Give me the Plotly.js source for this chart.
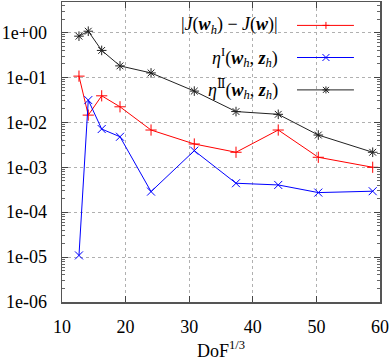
<!DOCTYPE html>
<html><head><meta charset="utf-8">
<script src="https://cdn.plot.ly/plotly-3.0.1.min.js"></script>
<style>html,body{margin:0;padding:0;background:#fff}#plot{width:390px;height:361px}</style>
</head><body><div id="plot"></div>
<script>
// DoF^{1/3}
const dof = [12.67, 14.13, 16.24, 19.12, 24.0, 30.8, 37.36, 44.0, 50.3, 58.85];
// |J(w_h) - J(w)|
const errJ = [0.107, 0.0145, 0.039, 0.0222, 0.00675, 0.0033, 0.00216, 0.00675, 0.00167, 0.001];
// eta^I(w_h, z_h)
const etaI = [1.09e-5, 0.0313, 0.0071, 0.00478, 2.87e-4, 0.00234, 4.41e-4, 4.04e-4, 2.73e-4, 2.93e-4];
// eta^II(w_h, z_h)
const etaII = [0.83, 1.07, 0.40, 0.181, 0.126, 0.0497, 0.0174, 0.0151, 0.00522, 0.00216];

const yTickVals = [1e-6, 1e-5, 1e-4, 1e-3, 1e-2, 1e-1, 1];
const yTickText = ['1e-06', '1e-05', '1e-04', '1e-03', '1e-02', '1e-01', '1e+00'];
const xTickVals = [10, 20, 30, 40, 50, 60];
const legendNames = [
  '|<i>J</i>(<b><i>w</i></b><sub><i>h</i></sub>) − <i>J</i>(<b><i>w</i></b>)|',
  '<i>η</i><sup>I</sup>(<b><i>w</i></b><sub><i>h</i></sub>, <b><i>z</i></b><sub><i>h</i></sub>)',
  '<i>η</i><sup>Ⅱ</sup>(<b><i>w</i></b><sub><i>h</i></sub>, <b><i>z</i></b><sub><i>h</i></sub>)'
];
const colors = ['#ff0000', '#0000ff', '#222222'];
const symbols = ['cross-thin-open', 'x-thin-open', 'asterisk-open'];
const series = [errJ, etaI, etaII];

// minor log ticks 2..9 within each decade
const minorVals = [];
for (let e = -6; e <= 0; e++) for (let m = 2; m <= 9; m++) {
  const v = m * Math.pow(10, e);
  if (Math.log10(v) <= 0.68) minorVals.push(v);
}

const traces = series.map((s, i) => ({
  x: dof, y: s, type: 'scatter', mode: 'lines+markers',
  line: {color: colors[i], width: 1},
  marker: {symbol: symbols[i], size: 8, color: colors[i], line: {color: colors[i], width: 1}},
  showlegend: false, hoverinfo: 'skip'
}));

const font = {family: 'Liberation Serif, DejaVu Serif, serif', size: 18, color: '#000'};

// manual key (text on the left, sample on the right, as in gnuplot)
const keyTextX = 0.6855, keyL = 0.739, keyR = 0.918, keyM = 0.830;
const keyY = [0.922, 0.815, 0.707];
const shapes = [
  {type: 'rect', xref: 'paper', yref: 'paper', x0: 0.003, x1: 0.959, y0: 0.67, y1: 1,
   fillcolor: '#ffffff', line: {width: 0}, layer: 'between'}
];
const annotations = [];
const markerSegs = [
  [[-3.5, 0, 3.5, 0], [0, -3.5, 0, 3.5]],
  [[-3.5, -3.5, 3.5, 3.5], [-3.5, 3.5, 3.5, -3.5]],
  [[-3.5, 0, 3.5, 0], [0, -3.5, 0, 3.5], [-3, -3, 3, 3], [-3, 3, 3, -3]]
];
for (let i = 0; i < 3; i++) {
  annotations.push({xref: 'paper', yref: 'paper', x: keyTextX, y: keyY[i], xanchor: 'right', yanchor: 'middle',
    text: legendNames[i], showarrow: false, font: font});
  shapes.push({type: 'line', xref: 'paper', yref: 'paper', x0: keyL, x1: keyR, y0: keyY[i], y1: keyY[i],
    line: {color: colors[i], width: 1}, layer: 'above'});
  markerSegs[i].forEach(sg => shapes.push({type: 'line', xref: 'paper', yref: 'paper',
    xsizemode: 'pixel', ysizemode: 'pixel', xanchor: keyM, yanchor: keyY[i],
    x0: sg[0], y0: sg[1], x1: sg[2], y1: sg[3], line: {color: colors[i], width: 1}, layer: 'above'}));
}

const layout = {
  width: 390, height: 361,
  margin: {l: 62, r: 10, t: 2, b: 59},
  paper_bgcolor: '#fff', plot_bgcolor: '#fff',
  font: font,
  showlegend: false,
  xaxis: {
    range: [10, 60], tickvals: xTickVals, ticks: 'inside', ticklen: 6, tickcolor: '#444',
    showline: true, linecolor: '#555', linewidth: 1.5, mirror: 'ticks',
    showgrid: true, gridcolor: '#b0b0b0', griddash: 'dot', gridwidth: 1,
    zeroline: false, tickfont: font, ticklabelstandoff: 8,
    title: {text: 'DoF<sup>1/3</sup>', font: font, standoff: 10}
  },
  yaxis: {
    type: 'log', range: [-6, 0.68], tickmode: 'array', tickvals: yTickVals, ticktext: yTickText,
    ticks: 'inside', ticklen: 6, tickcolor: '#444',
    minor: {tickmode: 'array', tickvals: minorVals, ticks: 'inside', ticklen: 3, tickcolor: '#666', showgrid: false},
    showline: true, linecolor: '#555', linewidth: 1.5, mirror: 'ticks',
    showgrid: true, gridcolor: '#b0b0b0', griddash: 'dot', gridwidth: 1,
    zeroline: false, tickfont: font, ticklabelstandoff: 10
  },
  shapes: shapes,
  annotations: annotations
};

Plotly.newPlot('plot', traces, layout, {staticPlot: true, displayModeBar: false});
</script></body></html>
